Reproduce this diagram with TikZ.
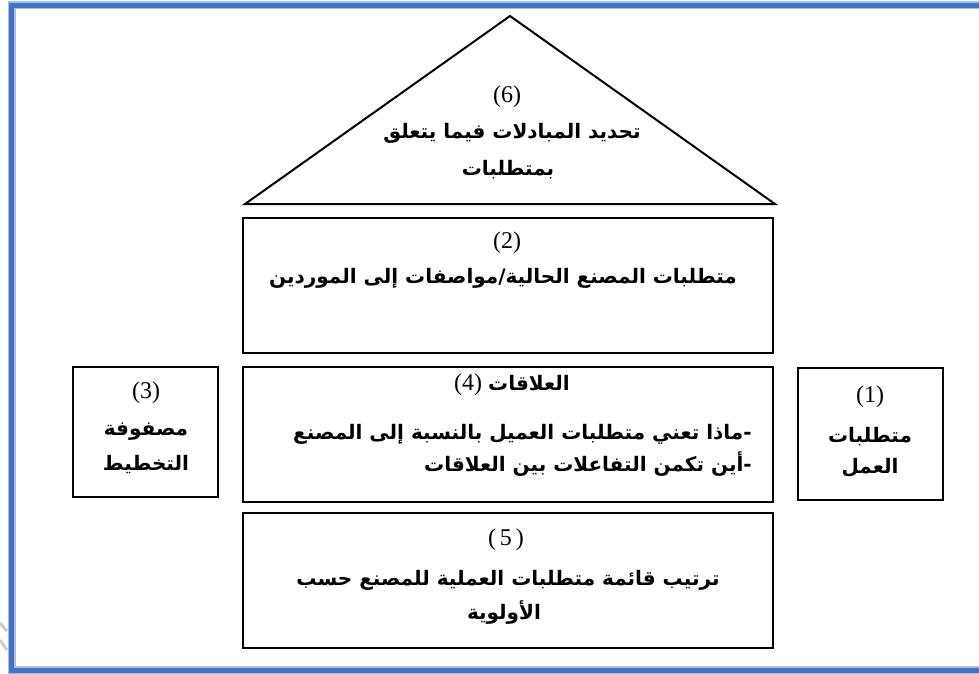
\documentclass[tikz,border=0pt]{standalone}
\usepackage{fontspec}
\TeXXeTstate=1
\newfontfamily\arabicfont[Script=Arabic]{DejaVu Sans}
\newfontfamily\numfont{Liberation Serif}
\newcommand{\ar}[1]{{\arabicfont\bfseries\beginR #1\endR}}
\definecolor{frameblue}{HTML}{4472C4}
\definecolor{frameedge}{HTML}{A9BFE6}
\tikzset{
  box/.style={draw=black, line width=2pt, inner sep=0pt, fill=white},
  artext/.style={inner sep=0pt, font=\fontsize{20}{24}\selectfont},
  numtext/.style={inner sep=0pt, font=\numfont\fontsize{24}{28}\selectfont},
}
\begin{document}
\begin{tikzpicture}[x=1pt,y=-1pt]
\useasboundingbox (0,0) rectangle (979,673);
% frame
\draw[frameedge, line width=8pt] (1000,5) -- (11.5,5) -- (11.5,670) -- (1000,670);
\draw[frameblue, line width=5pt] (1000,5) -- (11.5,5) -- (11.5,670) -- (1000,670);
% faint watermark fragment
\draw[black!20, line width=3pt] (0,623) -- (7,631);
\draw[black!20, line width=3pt] (0,640) -- (7,650);
% triangle (6)
\coordinate (apex) at (510,16);
\coordinate (bl) at (245,204);
\coordinate (br) at (775,204);
\draw[line width=2pt, line join=miter] (bl) -- (apex) -- (br) -- cycle;
\node[numtext] (n6) at (507,97) {(6)};
\node[artext] (t6a) at (512,133) {\ar{تحديد المبادلات فيما يتعلق}};
\node[artext] (t6b) at (508,170) {\ar{بمتطلبات}};
% box (2)
\node[box, minimum width=530, minimum height=135] (b2) at (508,285.5) {};
\node[numtext] (n2) at (507,243) {(2)};
\node[artext] (t2) at (503,278) {\ar{متطلبات المصنع الحالية/مواصفات إلى الموردين}};
% box (4)
\node[box, minimum width=530, minimum height=135] (b4) at (508,434.5) {};
\node[artext] (h4) at (512,385) {{\numfont\fontsize{24}{28}\selectfont(4)}\ \ar{العلاقات}};
\node[artext, anchor=east] (t4a) at (752,434) {\ar{-ماذا تعني متطلبات العميل بالنسبة إلى المصنع}};
\node[artext, anchor=east] (t4b) at (752,464) {\ar{-أين تكمن التفاعلات بين العلاقات}};
% box (5)
\node[box, minimum width=530, minimum height=135] (b5) at (508,580.5) {};
\node[numtext] (n5) at (506,540) {(\,5\,)};
\node[artext] (t5a) at (508,580) {\ar{ترتيب قائمة متطلبات العملية للمصنع حسب}};
\node[artext] (t5b) at (504,612) {\ar{الأولوية}};
% box (3)
\node[box, minimum width=145, minimum height=130] (b3) at (145.5,432) {};
\node[numtext] (n3) at (146,393) {(3)};
\node[artext] (t3a) at (146,432) {\ar{مصفوفة}};
\node[artext] (t3b) at (146,465) {\ar{التخطيط}};
% box (1)
\node[box, minimum width=145, minimum height=132] (b1) at (870.5,434) {};
\node[numtext] (n1) at (870,397) {(1)};
\node[artext] (t1a) at (870,437) {\ar{متطلبات}};
\node[artext] (t1b) at (870,468) {\ar{العمل}};
\end{tikzpicture}
\end{document}
